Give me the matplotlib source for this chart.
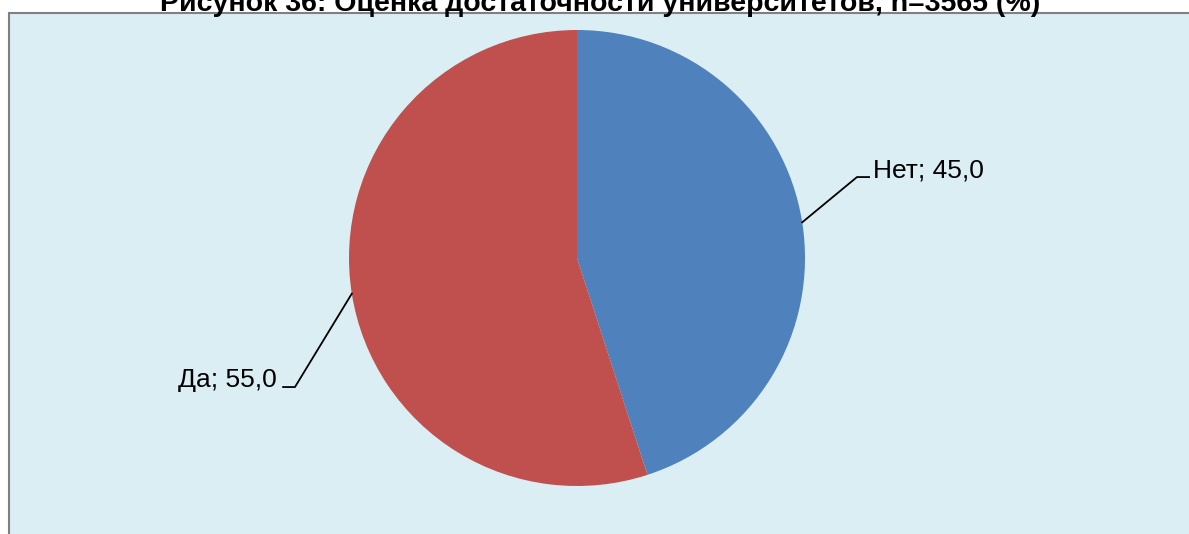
import numpy as np
import matplotlib
matplotlib.use('Agg')
import matplotlib.pyplot as plt
from matplotlib.patches import Rectangle

plt.rcParams['font.family'] = ['Liberation Sans', 'DejaVu Sans']

labels = ['Нет', 'Да']
values = [45.0, 55.0]
colors = ['#4F81BD', '#C0504D']
title = 'Рисунок 36: Оценка достаточности университетов, n=3565 (%)'

W, H = 1189, 534
fig = plt.figure(figsize=(W / 100, H / 100), dpi=100)
fig.patch.set_facecolor('white')

# plot area background (cut off on the right and bottom)
fig.patches.append(Rectangle((9 / W, -0.05), 1.1, (H - 13) / H + 0.05,
                             transform=fig.transFigure, facecolor='#DBEEF4',
                             edgecolor='#808080', linewidth=1.5, zorder=-5))

fig.text(600 / W, (H - 11) / H, title, ha='center', va='baseline',
         fontsize=20.5, fontweight='bold')

cx, cy, R = 577, 258, 228
ax = fig.add_axes([(cx - R) / W, (H - cy - R) / H, 2 * R / W, 2 * R / H])

wedges, _ = ax.pie(values, colors=colors, startangle=90, counterclock=False,
                   radius=1, wedgeprops=dict(linewidth=0))
ax.set_xlim(-1, 1)
ax.set_ylim(-1, 1)
ax.axis('off')

# label layout: (elbow x, line end x, baseline y, text x, ha)
layout = [(1.228, 1.281, 0.355, 1.298, 'left'),
          (-1.237, -1.289, -0.566, -1.316, 'right')]
for w, lab, val, (ex, lx, ly, tx, ha) in zip(wedges, labels, values, layout):
    ang = np.deg2rad((w.theta1 + w.theta2) / 2)
    px, py = np.cos(ang), np.sin(ang)
    ax.plot([px, ex, lx], [py, ly, ly], color='black', lw=1.3, clip_on=False)
    ax.text(tx, ly, f'{lab}; {val:.1f}'.replace('.', ','), ha=ha, va='baseline',
            fontsize=19)

fig.savefig('out.png', dpi=100)
